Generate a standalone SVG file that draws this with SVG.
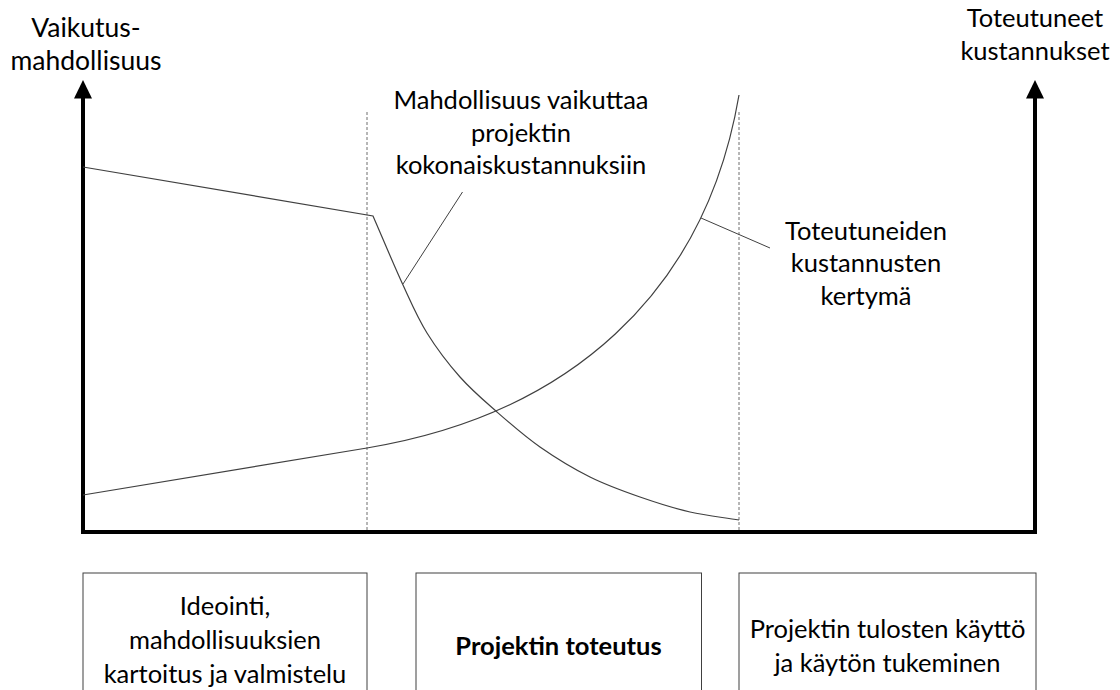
<svg xmlns="http://www.w3.org/2000/svg" width="1120" height="690" viewBox="0 0 1120 690">
  <defs>
    <style>
      .t{font-family:Lato,"Open Sans","Liberation Sans",sans-serif;font-size:25.5px;fill:#000;text-anchor:middle}
      .big{font-size:26.5px}
      .b{font-weight:bold}
      .axis{stroke:#000;stroke-width:4;fill:none;stroke-linejoin:miter}
      .head{fill:#000}
      .curve{stroke:#404040;stroke-width:1.2;fill:none}
      .guide{stroke:#6e6e6e;stroke-width:1;stroke-dasharray:3 2;fill:none}
      .box{fill:#fff;stroke:#404040;stroke-width:1}
      .lead{stroke:#404040;stroke-width:1;fill:none}
    </style>
  </defs>
  <rect width="1120" height="690" fill="#fff"/>

  <!-- phase boundaries -->
  <g id="guides">
    <line class="guide" x1="367" y1="112" x2="367" y2="530"/>
    <line class="guide" x1="739" y1="112" x2="739" y2="530"/>
  </g>

  <!-- axes -->
  <g id="axes">
    <path class="axis" d="M83,96 V532 H1035 V96"/>
    <polygon class="head" points="83,80 74,98.5 92,98.5"/>
    <polygon class="head" points="1035,80 1026,98.5 1044,98.5"/>
  </g>

  <!-- curves -->
  <g id="curves">
    <path id="influence" class="curve" d="M83,167 L373,216 C383,239 394,265.5 403,285 C412,304.5 417.5,317.7 427,333 C436.5,348.3 448.3,363.8 460,377 C471.7,390.2 483.7,400.3 497,412 C510.3,423.7 524.5,436.2 540,447 C555.5,457.8 573.3,468.7 590,477 C606.7,485.3 623.3,491.2 640,497 C656.7,502.8 673.5,508.2 690,512 C706.5,515.8 722.7,517.3 739,520"/>
    <path id="costs" class="curve" d="M83,495 L367,448 C567,414.8 705,295 739,95"/>
  </g>

  <!-- label leaders -->
  <g id="connectors">
    <line class="lead" x1="462.5" y1="192" x2="403" y2="284"/>
    <line class="lead" x1="701" y1="218" x2="770" y2="248"/>
  </g>

  <!-- axis titles -->
  <g id="label-left-axis">
    <text class="t big" x="86" y="37">Vaikutus-</text>
    <text class="t big" x="86" y="70">mahdollisuus</text>
  </g>
  <g id="label-right-axis">
    <text class="t" x="1035" y="27">Toteutuneet</text>
    <text class="t" x="1035" y="60">kustannukset</text>
  </g>

  <!-- curve labels -->
  <g id="label-influence">
    <text class="t" x="521" y="109">Mahdollisuus vaikuttaa</text>
    <text class="t" x="521" y="141.5">projektin</text>
    <text class="t" x="521" y="173.5">kokonaiskustannuksiin</text>
  </g>
  <g id="label-costs">
    <text class="t" x="866" y="240">Toteutuneiden</text>
    <text class="t" x="866" y="272">kustannusten</text>
    <text class="t" x="866" y="305">kertymä</text>
  </g>

  <!-- phases -->
  <g id="phase-ideation">
    <rect class="box" x="83" y="573" width="284" height="130"/>
    <text class="t" x="225" y="615">Ideointi,</text>
    <text class="t" x="225" y="649">mahdollisuuksien</text>
    <text class="t" x="225" y="683">kartoitus ja valmistelu</text>
  </g>
  <g id="phase-implementation">
    <rect class="box" x="416" y="573" width="285.5" height="130"/>
    <text class="t b" x="558.5" y="655">Projektin toteutus</text>
  </g>
  <g id="phase-use">
    <rect class="box" x="739" y="573" width="297" height="130"/>
    <text class="t" x="887.5" y="638">Projektin tulosten käyttö</text>
    <text class="t" x="887.5" y="672">ja käytön tukeminen</text>
  </g>
</svg>
